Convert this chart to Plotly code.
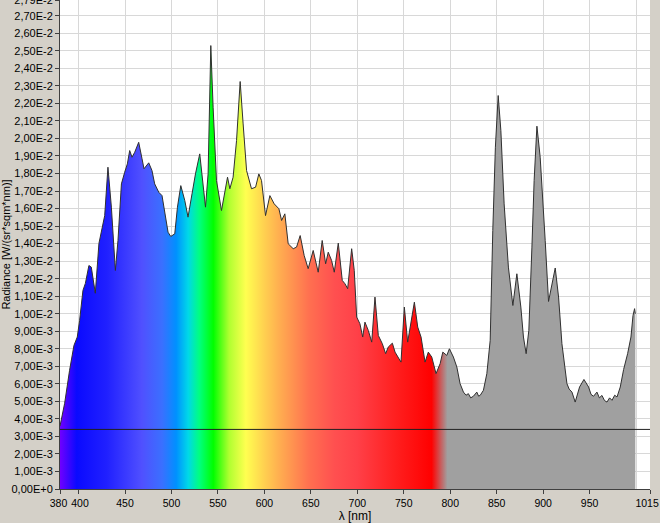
import plotly.graph_objects as go

# ---- data ----
wavelength_nm = [
    380.0, 385.0, 390.3, 395.0, 398.6, 401.1, 404.7, 407.3, 411.1, 413.7, 418.0, 421.9,
    428.1, 431.6, 435.3, 439.6, 442.4, 446.1, 449.6, 452.5, 455.0, 457.5, 460.4, 464.7,
    468.3, 470.4, 475.5, 479.0, 481.9, 486.3, 489.8, 492.7, 496.3, 499.2, 503.5, 506.4,
    510.0, 514.3, 517.8, 522.1, 525.8, 530.4, 532.9, 536.6, 539.4, 542.3, 544.8, 548.4,
    553.8, 557.4, 560.3, 562.8, 566.3, 570.0, 573.9, 577.1, 580.8, 586.1, 590.5, 594.0,
    596.9, 601.2, 605.9, 610.5, 615.6, 618.5, 622.0, 625.6, 631.0, 634.6, 638.5, 642.8,
    647.1, 652.5, 657.9, 662.2, 665.9, 668.7, 672.3, 675.2, 679.5, 683.8, 686.7, 689.6,
    693.9, 696.7, 699.3, 702.8, 705.8, 708.2, 711.8, 715.5, 719.0, 722.6, 726.9, 730.5,
    733.3, 737.7, 740.6, 747.0, 750.6, 754.2, 757.8, 761.4, 765.0, 768.6, 772.9, 776.4,
    780.1, 784.7, 789.1, 792.0, 796.3, 799.1, 803.4, 807.1, 810.6, 814.2, 817.0, 819.5,
    822.0, 824.9, 828.6, 830.5, 832.2, 835.7, 839.4, 843.0, 845.8, 848.6, 851.6, 854.5,
    858.0, 862.6, 867.4, 871.7, 876.0, 878.8, 881.7, 884.6, 887.9, 890.3, 893.3, 896.8,
    902.2, 905.8, 913.0, 916.6, 920.2, 925.6, 928.0, 931.0, 934.5, 939.2, 943.9, 948.9,
    951.5, 954.2, 957.9, 960.5, 963.3, 966.0, 968.7, 971.5, 974.1, 977.0, 979.5, 983.0,
    986.6, 990.9, 994.5, 996.7, 998.4, 999.2,
]
radiance = [
    3.59, 4.89, 6.77, 8.19, 8.67, 9.62, 11.33, 11.73, 12.75, 12.66, 11.17, 14.01,
    15.60, 18.36, 16.08, 12.47, 14.18, 17.41, 18.07, 18.55, 19.31, 18.93, 19.21, 19.78,
    18.84, 18.27, 18.61, 18.17, 17.41, 16.93, 16.74, 15.70, 14.65, 14.41, 14.56, 16.08,
    17.31, 16.46, 15.51, 16.84, 17.98, 19.12, 17.98, 16.08, 17.98, 25.30, 21.78, 17.60,
    15.89, 16.84, 17.79, 17.13, 17.79, 19.88, 23.25, 20.83, 18.17, 17.13, 17.22, 17.98,
    17.60, 15.60, 16.74, 16.27, 15.99, 15.32, 15.70, 13.99, 13.71, 13.80, 14.46, 13.32,
    12.57, 13.61, 12.37, 14.18, 12.85, 13.51, 13.04, 12.37, 14.03, 11.90, 11.71, 11.43,
    13.71, 12.47, 9.81, 9.43, 8.67, 9.52, 9.05, 8.38, 10.95, 8.76, 8.29, 7.72,
    8.10, 8.32, 7.81, 7.24, 10.38, 8.38, 9.62, 10.66, 9.24, 8.67, 7.24, 7.81,
    7.53, 6.58, 7.15, 7.81, 7.62, 8.00, 7.53, 6.96, 6.01, 5.53, 5.35, 5.44,
    5.20, 5.29, 5.53, 5.30, 5.34, 5.63, 6.58, 8.48, 14.75, 19.50, 22.45, 20.45,
    16.27, 12.66, 10.47, 12.28, 10.38, 8.67, 7.72, 9.05, 13.80, 17.60, 20.70, 18.93,
    14.18, 10.70, 12.61, 10.95, 8.29, 6.01, 5.70, 5.53, 4.96, 5.82, 6.25, 5.82,
    5.40, 5.29, 5.53, 5.20, 5.34, 5.05, 4.96, 5.20, 5.06, 5.35, 5.25, 5.82,
    6.82, 7.72, 8.67, 9.90, 10.29, 10.00,
]
radiance = [v * 1e-3 for v in radiance]

baseline_nm = [380, 1015]
baseline_value = [3.4e-3, 3.4e-3]

# spectral fill colours
spectrum_nm = [380, 398, 430, 468, 490, 505, 518, 530, 545, 562, 580, 600, 615, 648,
               675, 700, 740, 780, 797, 1000]
spectrum_colors = ["#7000ff", "#0a0aff", "#2020ff", "#5050ff", "#3a70ff", "#0090ff",
                   "#00d8e8", "#00ff80", "#00ff00", "#b0ff30", "#ffff50", "#ffd050",
                   "#ffb050", "#ff7050", "#ff5050", "#ff4048", "#ff2020", "#ff0000",
                   "#a0a0a0", "#a0a0a0"]

x_tickvals = [380, 400, 450, 500, 550, 600, 650, 700, 750, 800, 850, 900, 950, 1015]
x_ticktext = ["380\u00a0", "\u00a0400", "450", "500", "550", "600", "650", "700", "750",
              "800", "850", "900", "950", "1015\u00a0\u00a0"]
y_tickvals = [i * 1e-3 for i in range(28)] + [2.79e-2]
y_ticktext = ["0,00E+0", "1,00E-3", "2,00E-3", "3,00E-3", "4,00E-3", "5,00E-3",
              "6,00E-3", "7,00E-3", "8,00E-3", "9,00E-3", "1,00E-2", "1,10E-2",
              "1,20E-2", "1,30E-2", "1,40E-2", "1,50E-2", "1,60E-2", "1,70E-2",
              "1,80E-2", "1,90E-2", "2,00E-2", "2,10E-2", "2,20E-2", "2,30E-2",
              "2,40E-2", "2,50E-2", "2,60E-2", "2,70E-2", "2,79E-2"]

g0, g1 = spectrum_nm[0], spectrum_nm[-1]
colorscale = [[(n - g0) / (g1 - g0), c] for n, c in zip(spectrum_nm, spectrum_colors)]

fig = go.Figure()
fig.add_trace(go.Scatter(
    x=wavelength_nm, y=radiance, mode="lines", fill="tozeroy",
    line=dict(color="#303030", width=1),
    fillgradient=dict(type="horizontal", colorscale=colorscale, start=g0, stop=g1),
    hoverinfo="skip", showlegend=False,
))
fig.add_trace(go.Scatter(
    x=baseline_nm, y=baseline_value, mode="lines",
    line=dict(color="#202020", width=1), showlegend=False, hoverinfo="skip",
))

font = "Liberation Sans, Arial, sans-serif"
fig.update_layout(
    width=660, height=523,
    margin=dict(l=60, r=10, t=0, b=34),
    paper_bgcolor="#d4d0c8", plot_bgcolor="#ffffff",
    font=dict(family=font, size=11, color="#000000"),
    xaxis=dict(
        range=[380, 1015], tickvals=x_tickvals, ticktext=x_ticktext, tickangle=0,
        automargin=False, ticklabeloverflow="allow",
        showgrid=True, gridcolor="#d8d8d8", gridwidth=1,
        minor=dict(tickvals=[1000], showgrid=True, gridcolor="#d8d8d8", ticks=""),
        ticks="outside", ticklen=4, tickcolor="#404040",
        showline=True, linecolor="#404040", linewidth=1, zeroline=False,
        title=dict(text="λ [nm]", font=dict(size=12), standoff=0),
        tickfont=dict(size=10.5),
    ),
    yaxis=dict(
        range=[0, 0.0279], tickvals=y_tickvals, ticktext=y_ticktext,
        automargin=False, ticklabeloverflow="allow",
        showgrid=True, gridcolor="#d8d8d8", gridwidth=1,
        ticks="outside", ticklen=4, tickcolor="#404040",
        showline=True, linecolor="#404040", linewidth=1, zeroline=False,
        title=dict(text="Radiance [W/(sr*sqm*nm)]", font=dict(size=11), standoff=4),
        tickfont=dict(size=11),
    ),
)

fig.write_html("out.html", config={"displayModeBar": False},
               post_script="document.body.style.margin='0';")
